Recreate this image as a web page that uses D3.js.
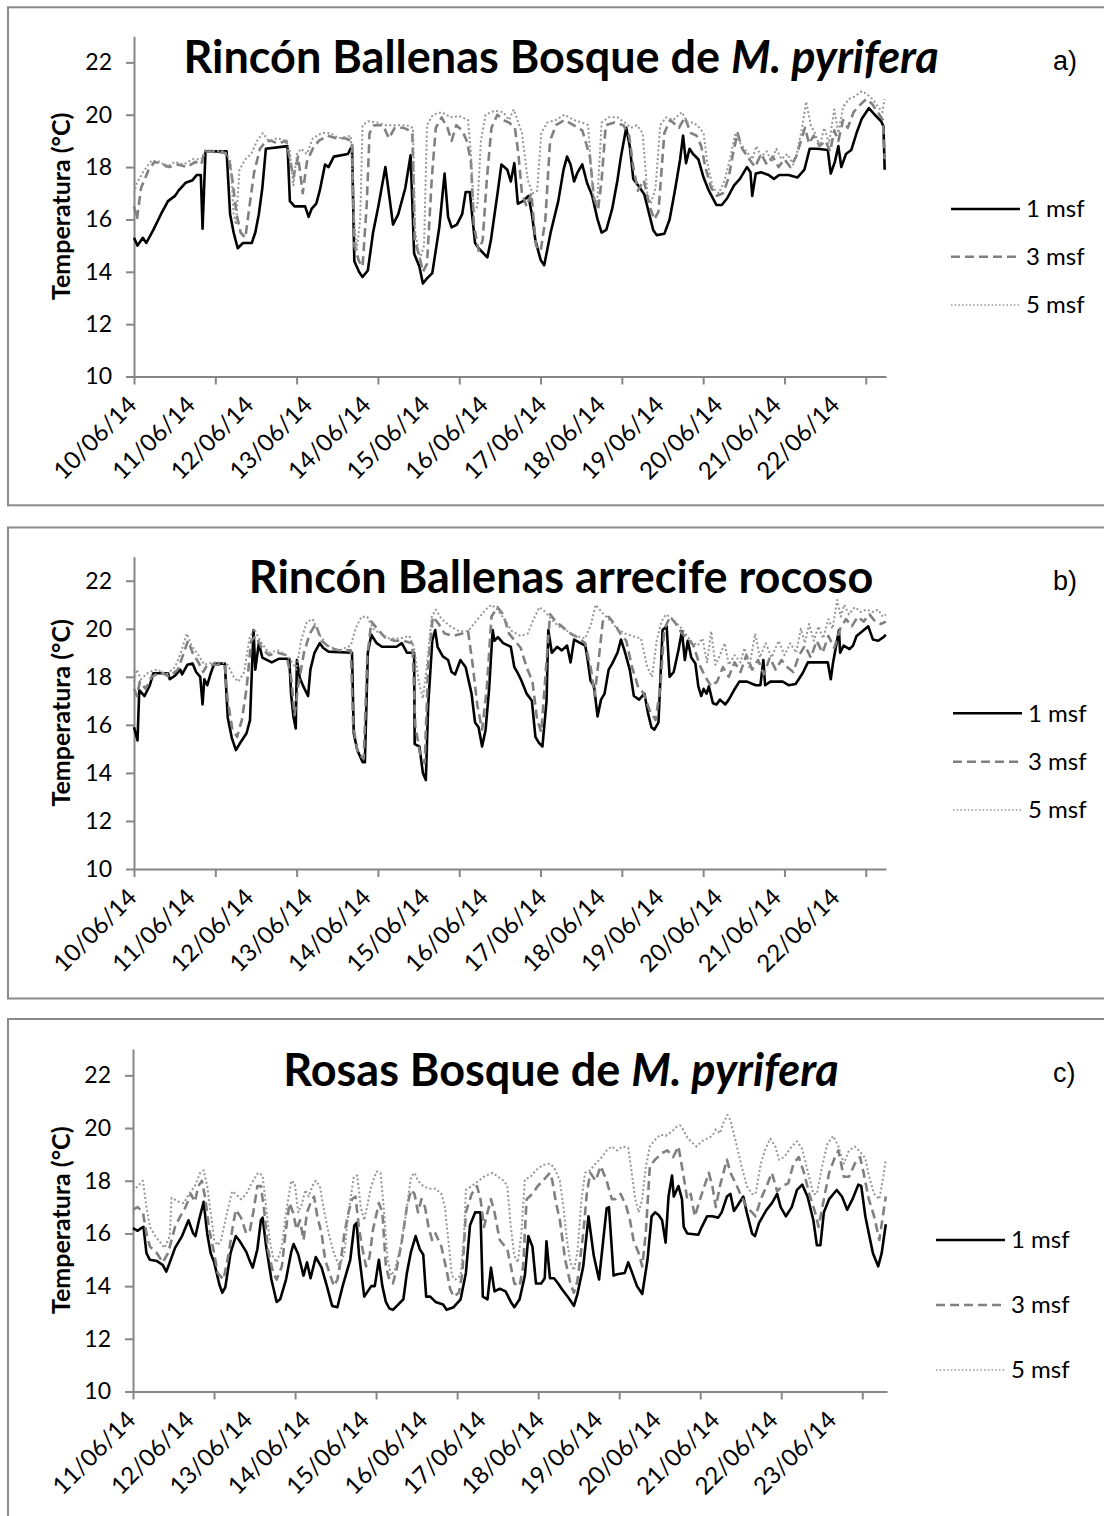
<!DOCTYPE html>
<html>
<head>
<meta charset="utf-8">
<script src="https://cdn.jsdelivr.net/npm/d3@7"></script>
<style>
  body { margin: 0; background: #fff; }
  svg { display: block; }
</style>
</head>
<body>
<div id="chart"></div>
<script>
// date labels on the category axis
const datesAB = ['10/06/14', '11/06/14', '12/06/14', '13/06/14', '14/06/14', '15/06/14', '16/06/14',
  '17/06/14', '18/06/14', '19/06/14', '20/06/14', '21/06/14', '22/06/14'];
const datesC = ['11/06/14', '12/06/14', '13/06/14', '14/06/14', '15/06/14', '16/06/14', '17/06/14',
  '18/06/14', '19/06/14', '20/06/14', '21/06/14', '22/06/14', '23/06/14'];
const yTicks = [10, 12, 14, 16, 18, 20, 22];
const seriesNames = ['1 msf', '3 msf', '5 msf'];

// [days since first label, temperature °C]
// a) Rincón Ballenas Bosque de M. pyrifera
const a1 = [[0,15.3],[0.06,15.0],[0.15,15.3],[0.21,15.1],[0.33,15.6],[0.46,16.2],[0.58,16.7],[0.7,16.9],[0.76,17.1],[0.88,17.4],[1.0,17.5],[1.07,17.7],[1.14,17.7],[1.17,15.65],[1.22,18.6],[1.58,18.6],[1.64,16.2],[1.7,15.5],[1.77,14.9],[1.86,15.1],[2.01,15.1],[2.07,15.5],[2.13,16.2],[2.19,17.2],[2.25,18.7],[2.62,18.8],[2.66,16.7],[2.74,16.5],[2.92,16.5],[2.98,16.1],[3.03,16.4],[3.11,16.6],[3.17,17.1],[3.26,18.1],[3.32,18.0],[3.41,18.4],[3.65,18.5],[3.72,18.8],[3.76,14.4],[3.84,14.0],[3.9,13.8],[3.99,14.05],[4.08,15.5],[4.17,16.5],[4.29,18.0],[4.35,17.0],[4.42,15.8],[4.51,16.2],[4.63,17.2],[4.72,18.45],[4.78,14.7],[4.87,14.2],[4.93,13.55],[5.0,13.75],[5.09,13.95],[5.21,15.7],[5.3,17.75],[5.36,16.1],[5.42,15.7],[5.51,15.8],[5.6,16.2],[5.66,17.05],[5.73,17.05],[5.82,15.1],[5.88,14.9],[6.03,14.55],[6.09,15.2],[6.21,17.1],[6.27,18.1],[6.37,17.9],[6.43,17.45],[6.49,18.15],[6.55,16.6],[6.64,16.7],[6.73,16.9],[6.79,16.2],[6.85,15.2],[6.94,14.45],[7.0,14.25],[7.11,15.5],[7.24,16.7],[7.33,17.9],[7.39,18.4],[7.45,18.1],[7.51,17.45],[7.57,17.8],[7.65,18.1],[7.73,17.4],[7.82,16.9],[7.91,16.0],[7.98,15.5],[8.06,15.6],[8.16,16.4],[8.25,17.5],[8.31,18.4],[8.4,19.5],[8.46,18.8],[8.52,17.55],[8.62,17.25],[8.71,16.95],[8.77,16.4],[8.86,15.6],[8.92,15.4],[9.05,15.45],[9.14,16.0],[9.23,17.1],[9.32,18.3],[9.37,19.2],[9.42,18.15],[9.48,18.7],[9.54,18.5],[9.63,18.3],[9.72,17.6],[9.81,17.1],[9.94,16.55],[10.03,16.55],[10.12,16.8],[10.24,17.3],[10.34,17.55],[10.46,18.0],[10.52,17.8],[10.55,16.9],[10.61,17.75],[10.7,17.8],[10.83,17.7],[10.92,17.55],[11.01,17.7],[11.17,17.7],[11.32,17.6],[11.44,17.9],[11.53,18.7],[11.66,18.7],[11.84,18.65],[11.89,17.75],[11.96,18.2],[12.02,18.8],[12.07,18.0],[12.15,18.5],[12.24,18.65],[12.33,19.3],[12.42,19.85],[12.54,20.25],[12.64,20.0],[12.75,19.75],[12.79,19.55],[12.81,17.9]];
const a3 = [[0,16.5],[0.05,16.0],[0.12,17.2],[0.25,17.9],[0.35,18.2],[0.5,18.1],[0.6,18.0],[0.75,18.1],[0.9,18.0],[1.05,18.2],[1.15,18.1],[1.2,18.6],[1.55,18.55],[1.62,18.3],[1.68,17.5],[1.75,16.2],[1.82,15.5],[1.9,15.3],[1.97,16.5],[2.05,17.8],[2.15,18.7],[2.25,19.0],[2.35,19.0],[2.45,18.9],[2.6,19.0],[2.66,18.3],[2.72,17.6],[2.8,18.4],[2.88,17.0],[2.95,18.2],[3.05,18.7],[3.15,19.0],[3.3,19.2],[3.45,19.1],[3.6,19.1],[3.72,19.0],[3.76,15.0],[3.84,14.4],[3.9,14.2],[3.97,16.5],[4.02,19.3],[4.1,19.6],[4.25,19.6],[4.35,19.1],[4.45,19.5],[4.6,19.5],[4.7,19.4],[4.75,19.3],[4.79,15.2],[4.87,14.6],[4.93,14.0],[5.0,14.3],[5.08,17.5],[5.15,19.5],[5.25,19.9],[5.35,19.5],[5.42,19.0],[5.5,19.6],[5.6,19.4],[5.68,19.0],[5.75,18.2],[5.8,15.8],[5.88,14.8],[5.95,15.2],[6.02,17.5],[6.1,19.5],[6.2,20.0],[6.3,19.8],[6.4,19.7],[6.5,19.5],[6.56,18.5],[6.62,17.0],[6.7,16.5],[6.78,17.0],[6.86,15.0],[6.94,14.8],[7.02,16.0],[7.1,19.0],[7.2,19.6],[7.35,19.8],[7.5,19.6],[7.65,19.4],[7.78,18.4],[7.85,16.8],[7.92,16.4],[7.98,17.5],[8.05,19.6],[8.2,19.7],[8.35,19.6],[8.45,19.2],[8.52,18.0],[8.6,17.1],[8.7,17.5],[8.8,16.5],[8.88,16.0],[8.95,16.3],[9.0,17.8],[9.05,19.3],[9.15,19.8],[9.3,19.5],[9.4,19.9],[9.5,19.3],[9.6,19.2],[9.68,18.8],[9.75,18.0],[9.85,17.2],[9.95,16.9],[10.05,17.0],[10.15,17.6],[10.22,18.5],[10.3,19.3],[10.38,18.7],[10.5,18.3],[10.6,18.0],[10.7,18.5],[10.8,18.1],[10.9,18.4],[11.0,18.0],[11.1,18.3],[11.2,18.0],[11.3,18.4],[11.38,19.0],[11.45,19.5],[11.52,18.9],[11.6,19.2],[11.7,18.8],[11.8,19.0],[11.88,18.6],[11.95,19.4],[12.02,19.0],[12.1,19.8],[12.18,19.5],[12.28,20.1],[12.4,20.4],[12.5,20.6],[12.6,20.4],[12.72,20.0],[12.78,19.8],[12.81,18.3]];
const a5 = [[0,17.0],[0.05,17.4],[0.15,17.8],[0.3,18.25],[0.45,18.2],[0.55,18.0],[0.7,18.2],[0.85,18.1],[1.0,18.3],[1.15,18.3],[1.22,18.65],[1.55,18.6],[1.65,18.2],[1.7,16.2],[1.74,15.8],[1.8,17.9],[1.9,18.3],[2.0,18.5],[2.1,19.0],[2.2,19.3],[2.3,19.0],[2.45,19.1],[2.6,19.0],[2.66,18.6],[2.72,17.3],[2.78,18.5],[2.85,18.7],[2.95,18.5],[3.05,19.1],[3.2,19.3],[3.35,19.3],[3.5,19.1],[3.7,19.2],[3.74,16.5],[3.8,14.8],[3.86,16.0],[3.9,19.6],[4.0,19.75],[4.15,19.7],[4.3,19.6],[4.5,19.6],[4.65,19.6],[4.76,19.5],[4.8,15.5],[4.88,14.5],[4.95,15.0],[5.0,19.6],[5.1,20.0],[5.25,20.1],[5.4,19.9],[5.55,19.95],[5.7,19.8],[5.75,18.5],[5.8,16.3],[5.86,16.5],[5.92,19.0],[6.0,20.0],[6.15,20.15],[6.3,20.1],[6.4,19.8],[6.48,20.2],[6.56,19.7],[6.62,19.3],[6.72,17.5],[6.8,17.0],[6.88,17.1],[6.95,19.3],[7.05,19.7],[7.2,19.8],[7.35,20.0],[7.5,19.8],[7.65,19.7],[7.75,19.6],[7.83,17.0],[7.9,16.5],[7.98,19.7],[8.1,19.9],[8.25,19.9],[8.38,19.7],[8.48,19.5],[8.58,19.6],[8.68,19.3],[8.76,17.0],[8.82,16.6],[8.9,17.2],[8.98,19.6],[9.08,19.9],[9.2,19.8],[9.35,20.1],[9.45,19.7],[9.55,19.7],[9.65,19.5],[9.72,19.3],[9.78,18.2],[9.88,17.2],[9.98,17.0],[10.08,17.5],[10.18,18.4],[10.26,19.3],[10.35,18.9],[10.45,18.6],[10.55,18.3],[10.62,18.8],[10.7,18.4],[10.8,18.6],[10.88,18.2],[10.96,18.7],[11.05,18.3],[11.15,18.5],[11.25,18.1],[11.32,18.6],[11.4,19.5],[11.47,20.5],[11.55,19.6],[11.62,19.3],[11.7,18.8],[11.78,19.5],[11.86,18.9],[11.95,20.2],[12.02,19.3],[12.1,20.3],[12.2,20.6],[12.3,20.7],[12.42,20.9],[12.5,20.8],[12.6,20.6],[12.7,20.3],[12.77,20.1],[12.81,20.6]];

// b) Rincón Ballenas arrecife rocoso
const b1 = [[0,15.9],[0.06,15.35],[0.09,17.45],[0.18,17.2],[0.27,17.65],[0.33,18.15],[0.58,18.15],[0.61,17.9],[0.7,18.05],[0.79,18.3],[0.82,18.1],[0.91,18.5],[1.0,18.55],[1.06,18.2],[1.13,18.0],[1.17,16.85],[1.2,17.9],[1.25,17.65],[1.31,18.15],[1.37,18.55],[1.55,18.55],[1.6,16.3],[1.67,15.45],[1.74,14.95],[1.8,15.2],[1.92,15.65],[1.98,16.2],[2.01,18.15],[2.04,19.95],[2.07,18.3],[2.13,19.4],[2.19,18.8],[2.35,18.6],[2.47,18.75],[2.65,18.75],[2.68,17.3],[2.72,16.35],[2.76,15.85],[2.78,18.7],[2.83,17.95],[2.89,17.6],[2.97,17.2],[3.01,18.3],[3.08,19.0],[3.17,19.4],[3.23,19.2],[3.32,19.05],[3.72,19.0],[3.75,15.65],[3.81,14.95],[3.9,14.45],[3.94,14.45],[3.99,19.0],[4.05,19.75],[4.14,19.4],[4.23,19.25],[4.48,19.25],[4.57,19.4],[4.66,19.0],[4.78,19.0],[4.79,15.2],[4.87,15.1],[4.93,14.0],[4.98,13.7],[5.02,16.8],[5.09,19.5],[5.14,19.95],[5.18,19.25],[5.27,18.85],[5.36,18.7],[5.42,18.2],[5.48,18.1],[5.57,18.7],[5.66,18.4],[5.76,17.3],[5.82,16.1],[5.88,15.9],[5.94,15.1],[6.0,15.8],[6.06,17.5],[6.12,19.95],[6.15,19.5],[6.21,19.65],[6.3,19.4],[6.43,19.25],[6.49,18.4],[6.55,18.15],[6.61,17.85],[6.7,17.3],[6.79,17.0],[6.85,15.5],[6.91,15.25],[6.97,15.1],[7.04,17.0],[7.07,19.95],[7.13,19.0],[7.22,19.25],[7.3,19.1],[7.39,19.3],[7.45,18.6],[7.51,19.55],[7.7,19.3],[7.73,18.9],[7.79,17.85],[7.85,17.6],[7.91,16.35],[7.97,17.05],[8.03,17.3],[8.1,18.3],[8.16,18.55],[8.25,19.0],[8.31,19.55],[8.37,19.1],[8.46,18.3],[8.53,17.2],[8.62,17.05],[8.71,17.3],[8.77,16.5],[8.83,15.9],[8.88,15.8],[8.95,16.1],[9.02,19.95],[9.09,20.1],[9.14,18.0],[9.21,18.2],[9.29,19.1],[9.35,19.9],[9.4,18.7],[9.45,19.5],[9.51,18.8],[9.58,18.55],[9.63,17.6],[9.68,17.2],[9.72,17.5],[9.77,17.3],[9.81,17.6],[9.88,16.9],[9.94,16.85],[10.0,17.05],[10.09,16.85],[10.15,17.05],[10.24,17.45],[10.33,17.8],[10.46,17.8],[10.61,17.65],[10.69,17.65],[10.74,18.7],[10.77,17.65],[10.86,17.8],[11.07,17.8],[11.17,17.65],[11.29,17.7],[11.41,18.15],[11.5,18.6],[11.84,18.6],[11.89,17.9],[11.93,18.6],[12.03,19.95],[12.05,19.0],[12.11,19.3],[12.21,19.15],[12.27,19.3],[12.33,19.7],[12.43,19.9],[12.53,20.1],[12.61,19.55],[12.7,19.5],[12.79,19.65],[12.83,19.75]];
const b3 = [[0,17.5],[0.05,17.2],[0.1,17.8],[0.2,17.5],[0.3,18.0],[0.45,18.2],[0.6,18.0],[0.75,18.3],[0.85,19.0],[0.92,19.5],[1.0,19.0],[1.1,18.6],[1.18,18.2],[1.25,18.5],[1.4,18.5],[1.55,18.5],[1.6,17.0],[1.68,15.8],[1.76,15.5],[1.84,16.2],[1.92,17.5],[2.0,19.5],[2.08,19.7],[2.18,19.2],[2.3,18.9],[2.45,19.0],[2.6,18.9],[2.68,18.0],[2.74,16.4],[2.8,17.6],[2.9,19.0],[3.0,19.8],[3.1,20.2],[3.2,19.5],[3.35,19.2],[3.5,19.1],[3.7,19.1],[3.74,16.0],[3.82,14.8],[3.92,14.6],[3.98,18.8],[4.05,20.3],[4.15,20.0],[4.3,19.6],[4.45,19.5],[4.6,19.5],[4.75,19.4],[4.8,16.0],[4.88,14.8],[4.96,14.4],[5.02,18.5],[5.1,20.5],[5.2,20.2],[5.3,19.8],[5.45,19.7],[5.6,19.8],[5.7,19.9],[5.78,18.5],[5.86,16.8],[5.94,15.8],[6.02,17.5],[6.1,20.5],[6.2,20.9],[6.3,20.6],[6.4,19.8],[6.5,19.5],[6.6,19.2],[6.7,18.4],[6.8,17.8],[6.88,16.2],[6.95,15.7],[7.02,18.0],[7.1,20.6],[7.2,20.3],[7.3,20.1],[7.45,19.8],[7.6,19.6],[7.7,19.4],[7.8,18.3],[7.86,17.2],[7.92,18.5],[8.0,20.3],[8.1,20.5],[8.2,20.2],[8.3,19.8],[8.4,19.5],[8.5,18.4],[8.6,17.6],[8.7,17.3],[8.8,16.6],[8.9,16.2],[8.98,17.5],[9.05,20.0],[9.15,20.5],[9.25,20.2],[9.35,19.8],[9.45,19.6],[9.55,19.3],[9.65,18.5],[9.75,18.0],[9.85,17.6],[9.95,17.8],[10.05,18.4],[10.15,18.0],[10.25,18.6],[10.35,18.2],[10.45,18.9],[10.55,18.3],[10.65,18.7],[10.75,18.1],[10.85,18.8],[10.95,18.3],[11.05,18.7],[11.15,18.4],[11.25,18.2],[11.35,18.9],[11.45,19.3],[11.55,18.8],[11.65,19.5],[11.75,19.0],[11.85,19.7],[11.95,19.2],[12.05,20.0],[12.15,20.4],[12.25,20.1],[12.35,20.5],[12.45,20.3],[12.55,20.6],[12.65,20.3],[12.75,20.2],[12.83,20.3]];
const b5 = [[0,17.8],[0.05,18.3],[0.12,17.9],[0.25,18.2],[0.4,18.3],[0.55,18.1],[0.7,18.4],[0.8,19.0],[0.9,19.8],[0.98,19.3],[1.1,18.9],[1.2,18.5],[1.35,18.6],[1.5,18.6],[1.6,18.5],[1.7,18.0],[1.78,17.8],[1.88,18.2],[1.97,19.6],[2.05,20.0],[2.15,19.5],[2.3,19.0],[2.45,19.1],[2.6,18.9],[2.7,18.6],[2.77,18.3],[2.85,19.5],[2.95,20.3],[3.05,20.4],[3.15,19.8],[3.3,19.3],[3.5,19.1],[3.7,19.3],[3.78,20.0],[3.88,20.5],[3.98,20.5],[4.08,20.0],[4.2,19.8],[4.35,19.6],[4.55,19.6],[4.7,19.7],[4.78,19.2],[4.86,17.8],[4.93,17.1],[5.0,18.5],[5.08,20.5],[5.15,20.8],[5.25,20.4],[5.4,20.1],[5.55,19.9],[5.7,19.9],[5.8,20.2],[5.9,20.5],[6.0,20.8],[6.1,21.0],[6.2,20.8],[6.32,20.4],[6.45,19.9],[6.6,19.7],[6.72,19.8],[6.82,20.4],[6.92,20.9],[7.02,20.7],[7.12,20.4],[7.25,20.1],[7.4,19.9],[7.55,19.7],[7.7,19.6],[7.8,20.2],[7.88,21.0],[7.98,20.7],[8.1,20.4],[8.25,20.0],[8.38,19.8],[8.5,19.7],[8.65,19.6],[8.76,18.4],[8.84,18.0],[8.92,19.5],[9.0,20.3],[9.08,20.6],[9.2,20.4],[9.35,20.0],[9.5,19.5],[9.62,19.3],[9.7,19.6],[9.78,18.6],[9.85,19.9],[9.92,18.5],[10.0,18.9],[10.08,19.4],[10.15,18.5],[10.25,18.9],[10.35,18.6],[10.42,19.2],[10.5,18.4],[10.6,19.8],[10.68,18.8],[10.78,19.4],[10.88,18.8],[11.0,19.5],[11.1,18.9],[11.2,19.4],[11.3,19.0],[11.38,20.0],[11.45,19.4],[11.52,20.2],[11.6,19.5],[11.68,20.1],[11.76,19.6],[11.85,20.4],[11.92,20.0],[12.0,21.2],[12.06,20.5],[12.12,21.0],[12.2,20.6],[12.3,20.9],[12.4,20.7],[12.5,20.8],[12.6,20.7],[12.7,20.8],[12.78,20.5],[12.83,20.6]];

// c) Rosas Bosque de M. pyrifera
const c1 = [[0,16.2],[0.08,16.1],[0.14,16.2],[0.18,16.25],[0.23,15.25],[0.29,15.0],[0.41,14.95],[0.51,14.8],[0.57,14.55],[0.63,14.9],[0.72,15.45],[0.84,15.9],[0.95,16.5],[1.03,16.0],[1.07,15.9],[1.13,16.5],[1.21,17.2],[1.27,16.0],[1.33,15.25],[1.39,14.9],[1.48,14.05],[1.53,13.75],[1.58,13.95],[1.67,15.25],[1.76,15.9],[1.83,15.7],[1.94,15.3],[2.0,14.95],[2.05,14.7],[2.13,15.4],[2.19,16.5],[2.22,16.6],[2.28,15.5],[2.37,14.25],[2.46,13.4],[2.52,13.5],[2.62,14.25],[2.71,15.3],[2.75,15.6],[2.83,15.2],[2.92,14.4],[2.98,14.9],[3.04,14.3],[3.13,15.1],[3.23,14.7],[3.32,14.0],[3.41,13.25],[3.5,13.2],[3.59,14.0],[3.72,15.0],[3.79,16.3],[3.83,16.4],[3.87,15.2],[3.96,13.6],[4.08,14.0],[4.14,14.0],[4.21,15.0],[4.27,14.0],[4.33,13.4],[4.39,13.15],[4.45,13.1],[4.54,13.3],[4.63,13.5],[4.69,14.5],[4.76,15.3],[4.84,15.9],[4.91,15.4],[4.97,15.2],[5.02,13.6],[5.09,13.6],[5.18,13.4],[5.31,13.3],[5.37,13.1],[5.49,13.2],[5.61,13.5],[5.7,14.5],[5.77,16.3],[5.86,16.8],[5.95,16.8],[5.99,13.6],[6.07,13.5],[6.13,14.7],[6.19,13.8],[6.28,13.9],[6.38,13.8],[6.47,13.4],[6.53,13.2],[6.62,13.5],[6.71,14.4],[6.77,15.9],[6.84,15.5],[6.9,14.1],[6.99,14.1],[7.05,14.3],[7.08,15.7],[7.14,14.3],[7.21,14.3],[7.28,14.1],[7.34,13.9],[7.46,13.55],[7.55,13.25],[7.61,13.7],[7.71,14.75],[7.8,16.65],[7.89,15.15],[7.98,14.25],[8.05,15.7],[8.11,16.95],[8.15,17.0],[8.23,14.4],[8.29,14.45],[8.42,14.5],[8.48,14.9],[8.54,14.55],[8.63,14.0],[8.72,13.7],[8.81,15.0],[8.88,16.65],[8.94,16.8],[9.0,16.7],[9.06,16.5],[9.12,15.65],[9.17,17.4],[9.23,18.2],[9.26,17.4],[9.34,17.8],[9.4,17.3],[9.43,16.25],[9.49,16.0],[9.68,15.95],[9.74,16.25],[9.83,16.65],[9.92,16.65],[10.02,16.6],[10.08,16.8],[10.17,17.4],[10.23,17.5],[10.29,16.85],[10.35,17.05],[10.45,17.4],[10.51,16.8],[10.6,16.0],[10.65,15.9],[10.72,16.4],[10.85,16.9],[10.94,17.15],[11.03,17.5],[11.09,17.0],[11.18,16.65],[11.28,17.0],[11.37,17.65],[11.46,17.85],[11.55,17.4],[11.65,16.5],[11.71,15.55],[11.77,15.55],[11.83,16.8],[11.92,17.3],[12.05,17.65],[12.14,17.4],[12.23,16.9],[12.32,17.3],[12.42,17.85],[12.47,17.8],[12.54,16.65],[12.6,16.0],[12.67,15.25],[12.76,14.75],[12.82,15.25],[12.89,16.35]];
const c3 = [[0,16.9],[0.08,17.0],[0.17,16.8],[0.23,16.0],[0.29,15.5],[0.41,15.25],[0.51,14.9],[0.6,15.25],[0.72,16.25],[0.81,16.65],[0.9,17.0],[0.99,17.5],[1.06,17.2],[1.12,17.8],[1.18,18.0],[1.24,17.3],[1.3,16.2],[1.39,15.25],[1.45,14.5],[1.55,14.25],[1.64,15.25],[1.7,16.15],[1.76,16.9],[1.85,16.6],[1.94,16.0],[2.0,16.1],[2.06,16.8],[2.13,17.8],[2.19,17.8],[2.25,16.8],[2.31,15.4],[2.4,14.5],[2.46,14.25],[2.55,14.75],[2.61,16.0],[2.68,17.15],[2.74,16.8],[2.8,16.15],[2.86,16.5],[2.92,15.75],[2.98,16.8],[3.04,17.15],[3.1,17.4],[3.16,16.6],[3.23,16.0],[3.29,15.0],[3.38,14.4],[3.44,14.0],[3.5,14.25],[3.56,15.0],[3.62,16.0],[3.69,16.8],[3.75,17.3],[3.81,17.4],[3.87,16.2],[3.93,15.4],[3.99,14.75],[4.05,15.1],[4.11,16.15],[4.21,17.15],[4.27,16.8],[4.33,14.75],[4.39,14.25],[4.45,14.1],[4.51,14.6],[4.6,15.65],[4.69,17.0],[4.76,17.65],[4.82,17.5],[4.88,16.8],[4.94,17.3],[5.0,17.0],[5.06,16.25],[5.12,15.75],[5.18,16.0],[5.28,15.5],[5.37,14.6],[5.43,13.9],[5.49,13.6],[5.58,13.75],[5.64,14.5],[5.7,16.8],[5.8,17.5],[5.89,17.8],[5.95,17.3],[6.01,16.25],[6.07,16.8],[6.13,17.3],[6.19,16.8],[6.28,15.75],[6.41,15.4],[6.47,14.75],[6.53,14.1],[6.62,14.0],[6.68,14.75],[6.74,17.3],[6.84,17.5],[6.93,17.8],[7.02,18.0],[7.14,18.3],[7.18,18.0],[7.24,17.2],[7.31,16.5],[7.4,15.0],[7.49,14.1],[7.55,13.75],[7.61,14.2],[7.71,16.0],[7.77,17.5],[7.83,18.3],[7.92,18.0],[8.01,18.55],[8.11,18.0],[8.2,17.3],[8.26,17.3],[8.35,17.5],[8.45,17.0],[8.51,16.5],[8.57,15.75],[8.66,15.25],[8.72,14.75],[8.78,16.0],[8.85,18.55],[8.94,18.8],[9.06,19.05],[9.15,19.15],[9.25,18.9],[9.34,19.3],[9.43,18.15],[9.49,17.3],[9.55,17.5],[9.62,16.65],[9.71,17.3],[9.8,17.9],[9.86,18.3],[9.92,17.8],[9.98,17.0],[10.05,17.8],[10.11,18.3],[10.17,18.8],[10.23,18.3],[10.32,17.9],[10.42,17.4],[10.51,17.0],[10.6,16.8],[10.66,16.65],[10.75,17.3],[10.85,17.8],[10.94,18.3],[11.03,17.6],[11.12,17.8],[11.22,17.9],[11.31,18.65],[11.4,18.9],[11.49,18.3],[11.58,17.5],[11.68,16.8],[11.74,16.25],[11.83,17.3],[11.92,18.3],[12.02,18.9],[12.08,19.15],[12.17,18.15],[12.26,18.15],[12.36,18.65],[12.45,18.9],[12.51,18.3],[12.6,17.3],[12.69,16.65],[12.78,15.75],[12.85,16.8],[12.89,17.4]];
const c5 = [[0,17.6],[0.08,17.8],[0.17,18.0],[0.23,17.0],[0.29,16.25],[0.38,15.9],[0.47,15.65],[0.54,15.45],[0.63,15.9],[0.66,17.35],[0.78,17.2],[0.87,17.15],[0.96,17.5],[1.06,17.8],[1.15,18.3],[1.21,18.4],[1.27,17.8],[1.33,16.8],[1.39,15.75],[1.45,15.55],[1.51,15.75],[1.61,16.8],[1.7,17.6],[1.76,17.5],[1.85,17.3],[1.94,17.5],[2.03,17.9],[2.14,18.3],[2.22,18.2],[2.28,17.0],[2.34,15.75],[2.4,15.1],[2.46,14.9],[2.55,15.5],[2.61,16.65],[2.71,18.0],[2.77,17.9],[2.83,16.8],[2.89,17.1],[2.95,17.65],[3.01,17.4],[3.07,17.8],[3.13,18.0],[3.2,17.8],[3.26,17.0],[3.35,16.0],[3.44,15.25],[3.53,14.75],[3.62,15.25],[3.69,16.8],[3.78,18.15],[3.84,18.2],[3.9,17.0],[3.96,16.5],[4.08,17.8],[4.17,18.35],[4.24,18.3],[4.3,16.8],[4.36,15.0],[4.42,14.4],[4.48,14.6],[4.57,15.4],[4.66,16.5],[4.76,18.15],[4.82,18.3],[4.88,18.0],[4.97,17.8],[5.06,17.7],[5.18,17.7],[5.28,17.5],[5.34,17.0],[5.4,15.75],[5.46,14.4],[5.52,14.25],[5.61,14.4],[5.67,16.0],[5.7,17.65],[5.8,17.8],[5.92,18.0],[6.04,18.2],[6.16,18.3],[6.25,18.15],[6.35,18.0],[6.41,17.8],[6.47,16.25],[6.53,15.15],[6.59,14.9],[6.65,16.0],[6.71,18.05],[6.81,18.15],[6.9,18.4],[7.02,18.6],[7.14,18.65],[7.21,18.5],[7.31,18.0],[7.37,17.0],[7.43,15.75],[7.49,14.9],[7.55,14.6],[7.61,15.3],[7.68,17.3],[7.74,18.3],[7.83,18.4],[7.92,18.65],[8.01,18.85],[8.11,19.15],[8.2,19.3],[8.29,19.15],[8.38,19.3],[8.48,19.25],[8.54,18.3],[8.6,17.3],[8.66,16.8],[8.72,17.3],[8.78,18.5],[8.85,19.3],[8.94,19.55],[9.03,19.75],[9.12,19.7],[9.22,19.85],[9.31,20.05],[9.37,20.1],[9.43,19.9],[9.49,19.65],[9.55,19.5],[9.65,19.3],[9.74,19.5],[9.83,19.6],[9.92,19.7],[9.98,19.95],[10.05,19.8],[10.11,20.2],[10.18,20.5],[10.23,20.3],[10.32,19.5],[10.42,18.55],[10.51,17.8],[10.6,17.5],[10.66,17.5],[10.75,18.65],[10.82,19.15],[10.91,19.6],[11.0,19.3],[11.06,18.8],[11.15,18.9],[11.28,19.3],[11.37,19.5],[11.46,19.2],[11.56,18.3],[11.65,17.5],[11.71,17.5],[11.8,18.55],[11.89,19.4],[11.99,19.7],[12.08,19.3],[12.17,18.65],[12.26,19.15],[12.36,19.3],[12.45,19.1],[12.54,18.85],[12.6,18.2],[12.69,17.5],[12.78,17.3],[12.85,18.2],[12.89,18.8]];

const W = 1104, H = 1516;
const lineStyle = [
  { stroke: '#000000', width: 2.6, dash: null },
  { stroke: '#808080', width: 2.6, dash: '9,5' },
  { stroke: '#969696', width: 2, dash: '2,2.4' }
];

const panels = [
  { box: [8, 7.3, 1110, 498], x0: 134, x1: 886, pxDay: 58.6, yTop: 36.2, yBot: 376.5,
    dates: datesAB, series: [a1, a3, a5], title: ['Rincón Ballenas Bosque de ', 'M. pyrifera'],
    titleY: 73, tag: 'a)', tagY: 70, legX: 951, legY: [209, 256.7, 305] },
  { box: [8, 527.5, 1110, 471], x0: 134, x1: 886, pxDay: 58.6, yTop: 556.7, yBot: 869,
    dates: datesAB, series: [b1, b3, b5], title: ['Rincón Ballenas arrecife rocoso', ''],
    titleY: 593, tag: 'b)', tagY: 590, legX: 953, legY: [713.3, 761.7, 810] },
  { box: [8, 1019, 1110, 520], x0: 133, x1: 887, pxDay: 58.4, yTop: 1049, yBot: 1391.5,
    dates: datesC, series: [c1, c3, c5], title: ['Rosas Bosque de ', 'M. pyrifera'],
    titleY: 1086, tag: 'c)', tagY: 1082, legX: 936, legY: [1240, 1305, 1370] }
];

const tickEvery = 1.3875; // days between x tick marks

const svg = d3.select('#chart').append('svg')
  .attr('width', W)
  .attr('height', H);

panels.forEach(p => {
  const g = svg.append('g');

  // frame
  g.append('rect')
    .attr('x', p.box[0]).attr('y', p.box[1])
    .attr('width', p.box[2]).attr('height', p.box[3])
    .attr('fill', 'none')
    .attr('stroke', '#8a8a8a')
    .attr('stroke-width', 2);

  const end = (p.x1 - p.x0) / p.pxDay;
  const x = d3.scaleLinear().domain([0, end]).range([p.x0, p.x1]);
  const y = d3.scaleLinear().domain([10, 23]).range([p.yBot, p.yTop]);

  // Y axis
  const yAxis = g.append('g')
    .attr('transform', `translate(${p.x0},0)`)
    .call(d3.axisLeft(y).tickValues(yTicks).tickSize(8).tickSizeOuter(0).tickPadding(14));
  yAxis.selectAll('line, path').attr('stroke', '#868686').attr('stroke-width', 2);
  yAxis.selectAll('text')
    .attr('font-family', 'Lato, sans-serif')
    .attr('font-size', 23)
    .attr('fill', '#000');

  // X axis (tick marks only)
  const xAxis = g.append('g')
    .attr('transform', `translate(0,${p.yBot})`)
    .call(d3.axisBottom(x).tickValues(d3.range(0, end, tickEvery)).tickSize(8).tickSizeOuter(0).tickFormat(''));
  xAxis.selectAll('line, path').attr('stroke', '#868686').attr('stroke-width', 2);

  // rotated date labels
  g.selectAll('text.date')
    .data(p.dates)
    .enter()
    .append('text')
    .attr('class', 'date')
    .attr('transform', (d, i) => `translate(${x(i) + 4},${p.yBot + 30}) rotate(-45)`)
    .attr('text-anchor', 'end')
    .attr('font-family', 'Lato, sans-serif')
    .attr('font-size', 24)
    .text(d => d);

  // Y title
  g.append('text')
    .attr('transform', `translate(70,${(p.yTop + p.yBot) / 2}) rotate(-90)`)
    .attr('text-anchor', 'middle')
    .attr('font-family', 'Lato, sans-serif')
    .attr('font-weight', 'bold')
    .attr('font-size', 25)
    .text('Temperatura (°C)');

  // lines
  const line = d3.line()
    .x(d => x(d[0]))
    .y(d => y(d[1]));

  p.series.forEach((s, i) => {
    const st = lineStyle[i];
    g.append('path')
      .datum(s)
      .attr('d', line)
      .attr('fill', 'none')
      .attr('stroke', st.stroke)
      .attr('stroke-width', st.width)
      .attr('stroke-dasharray', st.dash)
      .attr('stroke-linejoin', 'round');
  });

  // title
  const t = g.append('text')
    .attr('x', 561)
    .attr('y', p.titleY)
    .attr('text-anchor', 'middle')
    .attr('font-family', 'Lato, sans-serif')
    .attr('font-weight', 'bold')
    .attr('font-size', 45);
  t.append('tspan').text(p.title[0]);
  if (p.title[1]) t.append('tspan').attr('font-style', 'italic').text(p.title[1]);

  // panel tag
  g.append('text')
    .attr('x', 1053)
    .attr('y', p.tagY)
    .attr('font-family', 'Liberation Sans, Arial, sans-serif')
    .attr('font-size', 27)
    .text(p.tag);

  // legend
  seriesNames.forEach((name, i) => {
    const st = lineStyle[i];
    g.append('line')
      .attr('x1', p.legX).attr('x2', p.legX + 69)
      .attr('y1', p.legY[i]).attr('y2', p.legY[i])
      .attr('stroke', st.stroke)
      .attr('stroke-width', i === 2 ? 1.6 : st.width)
      .attr('stroke-dasharray', i === 2 ? '1.5,2.2' : st.dash);
    g.append('text')
      .attr('x', p.legX + 75)
      .attr('y', p.legY[i])
      .attr('dy', '0.35em')
      .attr('font-family', 'Lato, sans-serif')
      .attr('font-size', 24)
      .text(name);
  });
});
</script>
</body>
</html>
